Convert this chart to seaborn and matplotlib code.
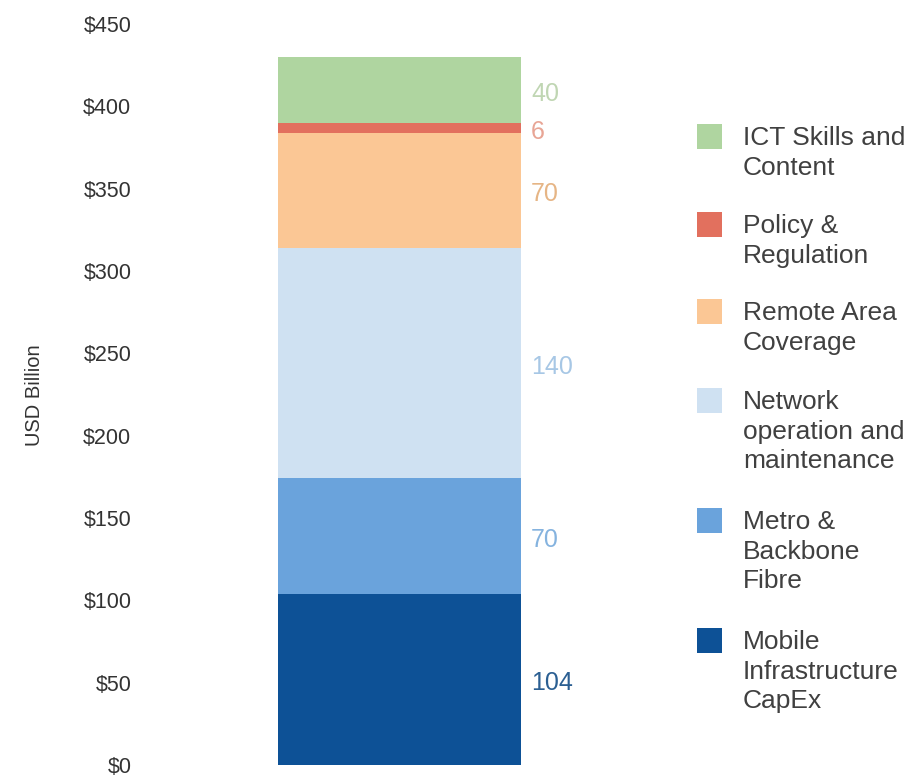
import matplotlib
matplotlib.use("Agg")
import matplotlib.pyplot as plt
import seaborn as sns
import pandas as pd
import numpy as np
from matplotlib.patches import Rectangle

# ---- data (bottom to top) ----
categories = ["Mobile Infrastructure CapEx", "Metro & Backbone Fibre",
              "Network operation and maintenance", "Remote Area Coverage",
              "Policy & Regulation", "ICT Skills and Content"]
legend_labels = ["Mobile\nInfrastructure\nCapEx", "Metro &\nBackbone\nFibre",
                 "Network\noperation and\nmaintenance", "Remote Area\nCoverage",
                 "Policy &\nRegulation", "ICT Skills and\nContent"]
values = [104, 70, 140, 70, 6, 40]
bar_colors = ["#0d5196", "#6aa3dc", "#cfe1f2", "#fbc795", "#e2705e", "#afd5a0"]
label_colors = ["#2b5f92", "#85b3df", "#a7c7e5", "#e6b585", "#e8a595", "#c0d6b3"]
yticks = [0, 50, 100, 150, 200, 250, 300, 350, 400, 450]
ytick_labels = ["$0", "$50", "$100", "$150", "$200", "$250", "$300", "$350", "$400", "$450"]

sns.set_theme(style="white")
plt.rcParams["font.family"] = ["Liberation Sans", "DejaVu Sans"]

W, H = 919, 777
fig = plt.figure(figsize=(W / 100, H / 100), dpi=100)
ax_left, ax_right = 155, 643
ax_top, ax_bot = 24, 765
ax = fig.add_axes([ax_left / W, (H - ax_bot) / H, (ax_right - ax_left) / W, (ax_bot - ax_top) / H])

cum = np.cumsum(values)
df = pd.DataFrame({"cat": categories, "val": values, "cum": cum, "color": bar_colors})
bar_w = 243 / (ax_right - ax_left)
# draw cumulative bars from the tallest down so each lower segment covers the one above
for i in range(len(df) - 1, -1, -1):
    row = df.iloc[i]
    sns.barplot(x=["total"], y=[row["cum"]], color=row["color"], width=bar_w,
                saturation=1, ax=ax, linewidth=0)

ax.set_xlim(-0.5, 0.5)
ax.set_ylim(0, 450)
ax.set_yticks(yticks)
ax.set_yticklabels(ytick_labels, fontsize=15.5, color="#333333")
ax.tick_params(axis="y", length=0, pad=17)
ax.set_xticks([])
ax.set_xlabel("")
ax.set_ylabel("")
for s in ax.spines.values():
    s.set_visible(False)

# value labels to the right of each segment
bottoms = cum - np.array(values)
for v, b, c in zip(values, bottoms, label_colors):
    ax.text(bar_w / 2 + 0.022, b + v / 2 - 2.5, str(v), ha="left", va="center",
            fontsize=18, color=c)

fig.text(35 / W, 1 - 395 / H, "USD Billion", rotation=90, ha="center", va="center",
         fontsize=14.5, color="#333333")

# legend (top to bottom)
centers = [640, 520, 400, 311, 224, 136]
for lab, col, cy in zip(legend_labels, bar_colors, centers):
    fig.add_artist(Rectangle(((697) / W, 1 - (cy + 12.5) / H), 25 / W, 25 / H,
                             transform=fig.transFigure, facecolor=col, edgecolor="none"))
    fig.text(743 / W, 1 - (cy - 10) / H, lab, ha="left", va="top", fontsize=19,
             color="#404040", linespacing=1.3)

fig.savefig("out.png", dpi=100)
